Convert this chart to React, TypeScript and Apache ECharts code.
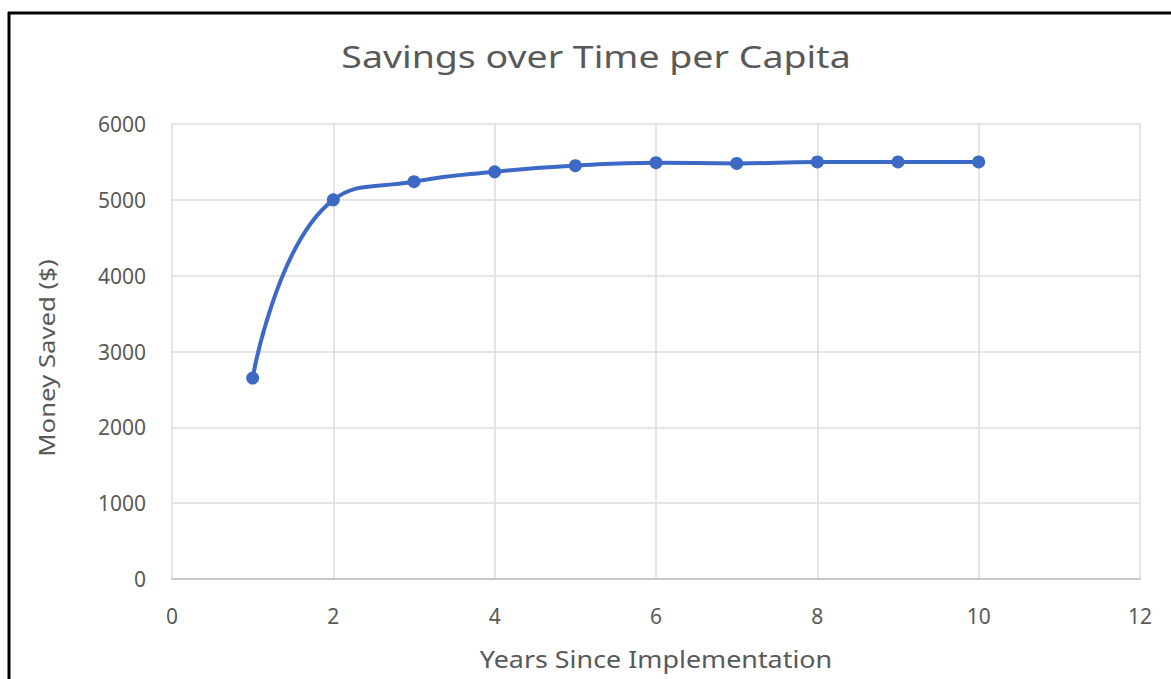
import React, { useEffect, useRef } from "react";
import * as echarts from "echarts";

const years = [1, 2, 3, 4, 5, 6, 7, 8, 9, 10];
const moneySaved = [2650, 5000, 5240, 5370, 5450, 5490, 5480, 5500, 5500, 5500];
const titleText = "Savings over Time per Capita";
const xAxisTitle = "Years Since Implementation";
const yAxisTitle = "Money Saved ($)";

const FONT = "'Noto Sans', 'Open Sans', sans-serif";
const TXT = "#595959";

export default function App() {
  const ref = useRef<HTMLDivElement>(null);
  useEffect(() => {
    document.body.style.margin = "0";
    const chart = echarts.init(ref.current!, null, { renderer: "svg" });
    chart.setOption({
      animation: false,
      backgroundColor: "#ffffff",
      grid: { left: 172, right: 31, top: 124, bottom: 100, containLabel: false },
      xAxis: {
        type: "value",
        min: 0,
        max: 12,
        interval: 2,
        axisLine: { show: true, lineStyle: { color: "#c8c8c8", width: 2 } },
        axisTick: { show: false },
        axisLabel: { color: TXT, fontFamily: FONT, fontSize: 21, margin: 26 },
        splitLine: { show: true, lineStyle: { color: "#dcdcdc", width: 1.5 } },
      },
      yAxis: {
        type: "value",
        min: 0,
        max: 6000,
        interval: 1000,
        axisLine: { show: false },
        axisTick: { show: false },
        axisLabel: { color: TXT, fontFamily: FONT, fontSize: 21, margin: 26, formatter: (v: number) => String(v) },
        splitLine: { show: true, lineStyle: { color: "#dcdcdc", width: 1.5 } },
      },
      series: [
        {
          type: "line",
          data: years.map((x, i) => [x, moneySaved[i]]),
          smooth: 0.5,
          symbol: "circle",
          symbolSize: 13,
          lineStyle: { color: "#3d69c6", width: 4 },
          itemStyle: { color: "#3d69c6" },
        },
      ],
      graphic: [
        { type: "line", shape: { x1: 8, y1: 13, x2: 1171, y2: 13 }, style: { stroke: "#000", lineWidth: 3 } },
        { type: "line", shape: { x1: 9, y1: 12, x2: 9, y2: 679 }, style: { stroke: "#000", lineWidth: 3 } },
        {
          type: "text",
          x: 596,
          y: 57,
          scaleX: 1.25,
          style: { text: titleText, fill: TXT, font: `30px ${FONT}`, textAlign: "center", textVerticalAlign: "middle" },
        },
        {
          type: "text",
          x: 656,
          y: 659,
          scaleX: 1.12,
          style: { text: xAxisTitle, fill: TXT, font: `24px ${FONT}`, textAlign: "center", textVerticalAlign: "middle" },
        },
        {
          type: "text",
          x: 46,
          y: 358,
          rotation: Math.PI / 2,
          scaleX: 1.17,
          style: { text: yAxisTitle, fill: TXT, font: `22px ${FONT}`, textAlign: "center", textVerticalAlign: "middle" },
        },
      ],
    });
    return () => chart.dispose();
  }, []);
  return <div ref={ref} style={{ position: "fixed", left: 0, top: 0, width: 1171, height: 679 }} />;
}
